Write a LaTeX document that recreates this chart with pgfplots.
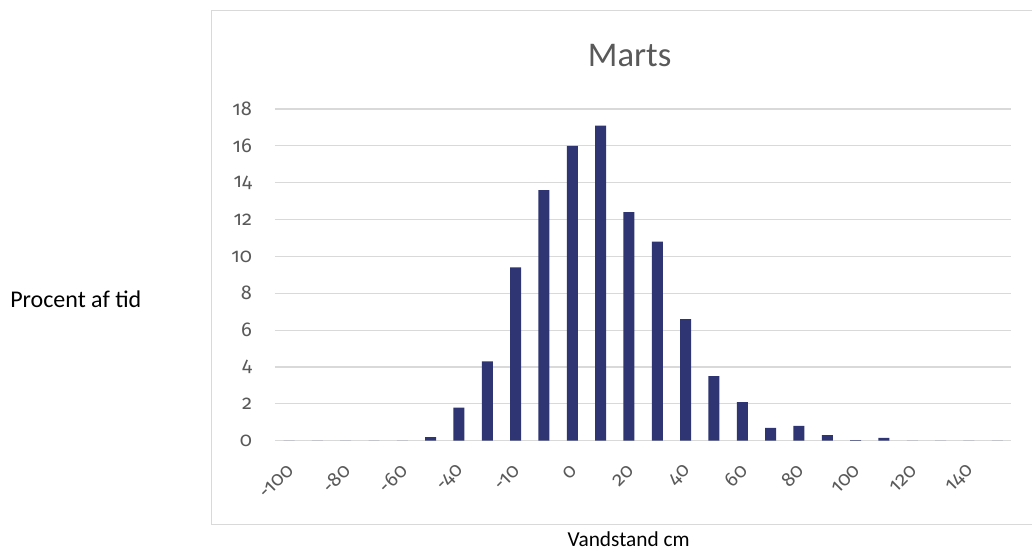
\documentclass[border=0pt]{standalone}
\usepackage{fontspec}
\setmainfont{Carlito}
\newfontfamily\tickfont{Fira Sans}[Numbers=OldStyle]
\usepackage{pgfplots}
\pgfplotsset{compat=1.18}
\definecolor{barc}{HTML}{2E3572}
\definecolor{txt}{HTML}{595959}
\definecolor{grd}{HTML}{D9D9D9}
\begin{document}
\begin{tikzpicture}
\path (0pt,0pt) rectangle (774.75pt,413.25pt);
\draw[grd, line width=0.9pt] (774.75pt,19.5pt) -- (158.8pt,19.5pt) -- (158.8pt,405.2pt) -- (774.75pt,405.2pt);
\node[text=txt, font=\fontsize{26}{30}\selectfont, anchor=base] at (472.5pt,363pt) {Marts};
\node[text=black, font=\fontsize{16}{19}\selectfont, anchor=base] at (471.75pt,3pt) {Vandstand cm};
\node[text=black, font=\fontsize{18}{21}\selectfont, anchor=base west, inner sep=0pt] at (7.5pt,182.25pt) {Procent af tid};
\begin{axis}[at={(206.25pt,82.5pt)}, anchor=south west, scale only axis,
  width=552.75pt, height=249pt,
  xmin=-0.5, xmax=25.5, ymin=0, ymax=18,
  axis line style={draw=none}, major tick length=0pt,
  ymajorgrids, grid style={grd, line width=0.9pt},
  xtick={0,2,...,24},
  xticklabels={-100,-80,-60,-40,-10,0,20,40,60,80,100,120,140},
  ytick={0,2,...,18},
  ybar, bar width=8.25pt,
  tick label style={font=\tickfont\fontsize{15}{17}\selectfont, text=txt},
  xticklabel style={xshift=1.5pt, yshift=-20pt, rotate=45, anchor=east, inner sep=0pt},
  yticklabel style={anchor=east, inner sep=0pt, xshift=-17pt},
  /pgf/number format/assume math mode=true,
]
\addplot[fill=barc, draw=none, bar shift=0pt] coordinates {
(0,0)(1,0)(2,0)(3,0)(4,0)(5,0.2)(6,1.8)(7,4.3)(8,9.4)(9,13.6)(10,16.0)(11,17.1)(12,12.4)(13,10.8)(14,6.6)(15,3.5)(16,2.1)(17,0.7)(18,0.8)(19,0.3)(20,0.04)(21,0.15)(22,0)(23,0)(24,0)(25,0)
};
\end{axis}
\end{tikzpicture}
\end{document}
